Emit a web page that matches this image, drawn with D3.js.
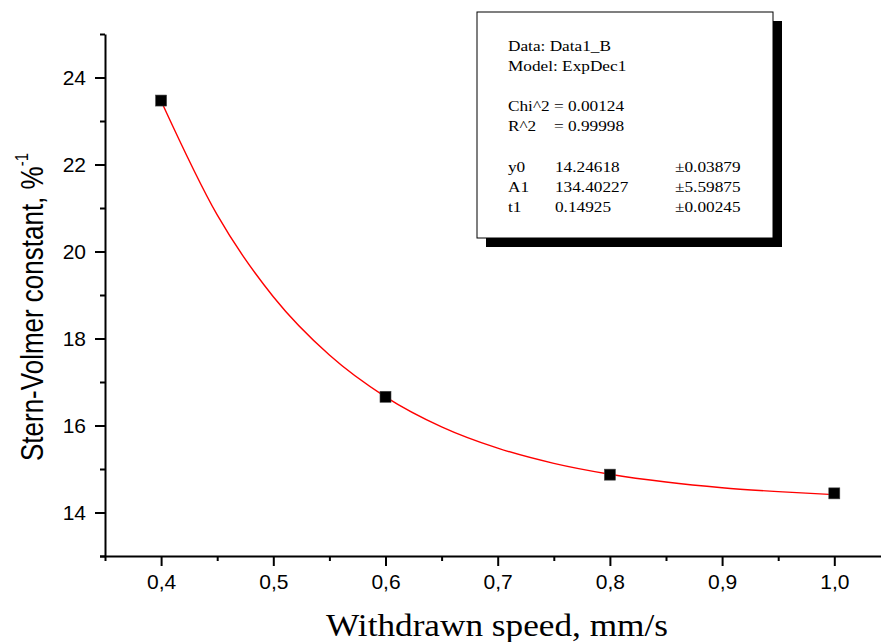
<!DOCTYPE html>
<html>
<head>
<meta charset="utf-8">
<script src="https://cdn.jsdelivr.net/npm/d3@7"></script>
<style>
    body { margin: 0; background: #fff; }
</style>
</head>
<body>
<div id="chart"></div>
<script>
// measured points
var speedX = [0.4, 0.6, 0.8, 1.0];
var sternY = [23.47, 16.66, 14.87, 14.44];

// red fit line
var fitX = [0.40, 0.45, 0.50, 0.55, 0.60, 0.65, 0.70, 0.75, 0.80, 0.85, 0.90, 0.95, 1.00];
var fitY = [23.46, 20.84, 18.96, 17.62, 16.66, 15.97, 15.48, 15.13, 14.88, 14.70, 14.57, 14.48, 14.41];

// tick values
var xMajor = [0.4, 0.5, 0.6, 0.7, 0.8, 0.9, 1.0];
var xMinor = [0.35, 0.45, 0.55, 0.65, 0.75, 0.85, 0.95, 1.05];
var yMajor = [14, 16, 18, 20, 22, 24];
var yMinor = [13, 15, 17, 19, 21, 23, 25];

// fit report lines
var reportHead = ["Data: Data1_B", "Model: ExpDec1"];
var statNames = ["Chi^2", "R^2"];
var statValues = ["0.00124", "0.99998"];
var paramNames = ["y0", "A1", "t1"];
var paramValues = ["14.24618", "134.40227", "0.14925"];
var paramErrors = ["\u00b10.03879", "\u00b15.59875", "\u00b10.00245"];

var svgWidth = 881;
var svgHeight = 642;

var svg = d3.select("#chart")
    .append("svg")
    .attr("width", svgWidth)
    .attr("height", svgHeight)
    .style("font-family", "'Liberation Sans', Arial, sans-serif");

// scales
var xScale = d3.scaleLinear().domain([0.35, 1.05]).range([105, 890.4]);
var yScale = d3.scaleLinear().domain([13, 25]).range([556, 34]);

var fmtComma = function(d) { return d3.format(".1f")(d).replace(".", ","); };

// x axis
var xAxis = svg.append("g")
    .attr("transform", "translate(0, 556)")
    .call(d3.axisBottom(xScale).tickValues(xMajor).tickSize(10).tickSizeOuter(0).tickPadding(8).tickFormat(fmtComma));

svg.append("g")
    .attr("transform", "translate(0, 556)")
    .call(d3.axisBottom(xScale).tickValues(xMinor).tickSize(5).tickSizeOuter(0).tickFormat(""))
    .select(".domain").remove();

// y axis
var yAxis = svg.append("g")
    .attr("transform", "translate(105, 0)")
    .call(d3.axisLeft(yScale).tickValues(yMajor).tickSize(10).tickSizeOuter(0).tickPadding(9).tickFormat(d3.format("d")));

svg.append("g")
    .attr("transform", "translate(105, 0)")
    .call(d3.axisLeft(yScale).tickValues(yMinor).tickSize(5).tickSizeOuter(0).tickFormat(""))
    .select(".domain").remove();

// extend x axis line a bit left of the corner
xAxis.select(".domain").attr("d", "M100,0.5H" + (svgWidth + 20));

svg.selectAll(".domain, .tick line")
    .attr("stroke", "#000")
    .attr("stroke-width", 2);

svg.selectAll(".tick text")
    .attr("fill", "#000")
    .style("font-size", "21px")
    .style("font-family", "'Liberation Sans', Arial, sans-serif");

// fit curve
var fitData = fitX.map(function(x, i) { return [x, fitY[i]]; });
var line = d3.line()
    .x(d => xScale(d[0]))
    .y(d => yScale(d[1]))
    .curve(d3.curveMonotoneX);

svg.append("path")
    .datum(fitData)
    .attr("d", line)
    .attr("fill", "none")
    .attr("stroke", "#ff0000")
    .attr("stroke-width", 1.4);

// square markers
svg.selectAll("rect.pt")
    .data(speedX)
    .enter()
    .append("rect")
    .classed("pt", true)
    .attr("x", (d, i) => xScale(d) - 5.5)
    .attr("y", (d, i) => yScale(sternY[i]) - 5.5)
    .attr("width", 11)
    .attr("height", 11)
    .attr("fill", "#000")
    .attr("stroke", "#444")
    .attr("stroke-width", 0.6);

// axis titles
svg.append("text")
    .attr("x", 497)
    .attr("y", 636)
    .attr("text-anchor", "middle")
    .attr("textLength", 342)
    .attr("lengthAdjust", "spacingAndGlyphs")
    .style("font-family", "'Liberation Serif', 'Times New Roman', serif")
    .style("font-size", "31px")
    .text("Withdrawn speed, mm/s");

var yTitle = svg.append("text")
    .attr("transform", "translate(43, 307) scale(1.18, 1) rotate(-90)")
    .attr("text-anchor", "middle")
    .style("font-size", "26px");
yTitle.append("tspan").text("Stern-Volmer constant,  %");
yTitle.append("tspan")
    .attr("dy", -13)
    .style("font-size", "15px")
    .text("-1");

// fit report box with shadow
var box = { x: 477, y: 12, w: 296, h: 226 };
svg.append("rect")
    .attr("x", box.x + 9)
    .attr("y", box.y + 9)
    .attr("width", box.w)
    .attr("height", box.h)
    .attr("fill", "#000");
svg.append("rect")
    .attr("x", box.x)
    .attr("y", box.y)
    .attr("width", box.w)
    .attr("height", box.h)
    .attr("fill", "#fff")
    .attr("stroke", "#000")
    .attr("stroke-width", 1);

function reportText(x, y, str) {
    svg.append("text")
        .attr("transform", `translate(${x}, ${y}) scale(1.15, 1)`)
        .style("font-family", "'Liberation Serif', 'Times New Roman', serif")
        .style("font-size", "15px")
        .attr("fill", "#000")
        .text(str);
}

reportHead.forEach(function(s, i) { reportText(508, 51 + i * 20, s); });
statNames.forEach(function(s, i) {
    reportText(508, 111 + i * 20, s);
    reportText(554, 111 + i * 20, "=");
    reportText(568, 111 + i * 20, statValues[i]);
});
paramNames.forEach(function(s, i) {
    reportText(508, 172 + i * 20, s);
    reportText(555, 172 + i * 20, paramValues[i]);
    reportText(675, 172 + i * 20, paramErrors[i]);
});
</script>
</body>
</html>
